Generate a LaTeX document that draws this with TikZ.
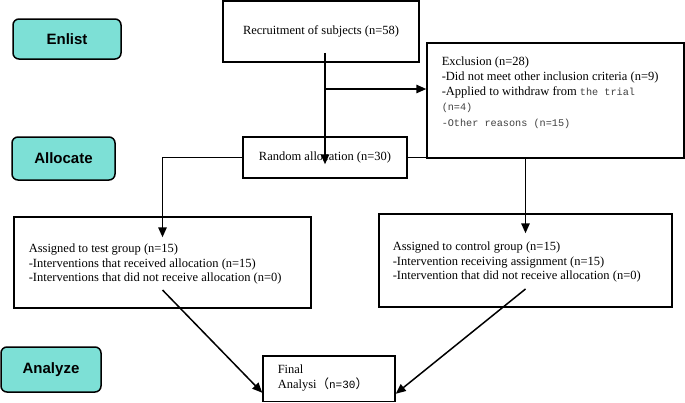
\documentclass[tikz,border=0pt]{standalone}
\usepackage{fontspec}
\setmainfont{Liberation Serif}
\setsansfont{Liberation Sans}
\setmonofont{Liberation Mono}
\newfontfamily\cjk{Noto Sans CJK SC}
\usetikzlibrary{arrows.meta}
\definecolor{stagefill}{RGB}{125,224,214}

\begin{document}
\begin{tikzpicture}
[x=1pt, y=-1pt, line width=1.5pt,
box/.style={draw, inner sep=0pt, font=\fontsize{12.5}{15}\selectfont},
stage/.style={draw, rounded corners=6pt, fill=stagefill, inner sep=0pt,
    font=\sffamily\bfseries\fontsize{15}{18}\selectfont},
txt/.style={anchor=west, inner sep=0pt, align=left, font=\fontsize{12.5}{14.5}\selectfont},
arr/.style={-{Triangle[length=10pt,width=8.5pt]}}]

\useasboundingbox (0,0) rectangle (685,402);

\foreach \nm/\lbl/\x/\y/\w/\h in {enlist/Enlist/67/39/108/40,
    allocate/Allocate/63.5/158.5/103/43, analyze/Analyze/51/369.5/100/45} {
    \node[stage, minimum width=\w pt, minimum height=\h pt] (\nm) at (\x,\y) {\lbl};
}

\node[box, minimum width=196pt, minimum height=61pt] (recruit) at (321,31.5)
    {Recruitment of subjects (n=58)};
\node[box, minimum width=164pt, minimum height=41pt] (alloc) at (325,157.5)
    {Random allocation (n=30)};

\node[box, minimum width=257pt, minimum height=115pt] (excl) at (555.5,100.5) {};
\node[txt, font=\fontsize{12.5}{15.2}\selectfont] (excltxt) at (441,92.5)
    {Exclusion (n=28)\\
     -Did not meet other inclusion criteria (n=9)\\
     -Applied to withdraw from {\ttfamily\fontsize{10.2}{15}\selectfont\color{black!75}the trial}\\
     {\ttfamily\fontsize{10.2}{15}\selectfont\color{black!75}(n=4)}\\
     {\ttfamily\fontsize{10.2}{15}\selectfont\color{black!75}-Other reasons (n=15)}};

\node[box, minimum width=297pt, minimum height=91pt] (test) at (162.5,262.5) {};
\node[txt] (testtxt) at (28,264)
    {Assigned to test group (n=15)\\
     -Interventions that received allocation (n=15)\\
     -Interventions that did not receive allocation (n=0)};

\node[box, minimum width=293pt, minimum height=93pt] (ctrl) at (525.5,260.5) {};
\node[txt] (ctrltxt) at (392,262)
    {Assigned to control group (n=15)\\
     -Intervention receiving assignment (n=15)\\
     -Intervention that did not receive allocation (n=0)};

\node[box, minimum width=132pt, minimum height=45.5pt] (final) at (329,378.75) {};
\node[txt, font=\fontsize{12.5}{14.5}\selectfont] (finaltxt) at (277,378)
    {Final\\
     Analysi{\cjk （}{\ttfamily\fontsize{11}{14}\selectfont n=30}{\cjk ）}};

% flow
\draw[arr, shorten <=-10pt, shorten >=-28pt] (recruit.south -| alloc.north) -- (alloc.north);
\coordinate (split) at (325,89);
\draw[arr] (split) -- (split -| excl.west);
\draw[arr, shorten >=-21pt] (alloc.west) -| (test.north);
\draw[arr, shorten >=-20pt] (alloc.east) -| (ctrl.north);
\draw[arr] ([yshift=-27.5pt]test.center) -- ([yshift=-14pt]final.west);
\draw[arr] ([yshift=-28.5pt]ctrl.center) -- ([yshift=-15pt]final.east);

\end{tikzpicture}
\end{document}
